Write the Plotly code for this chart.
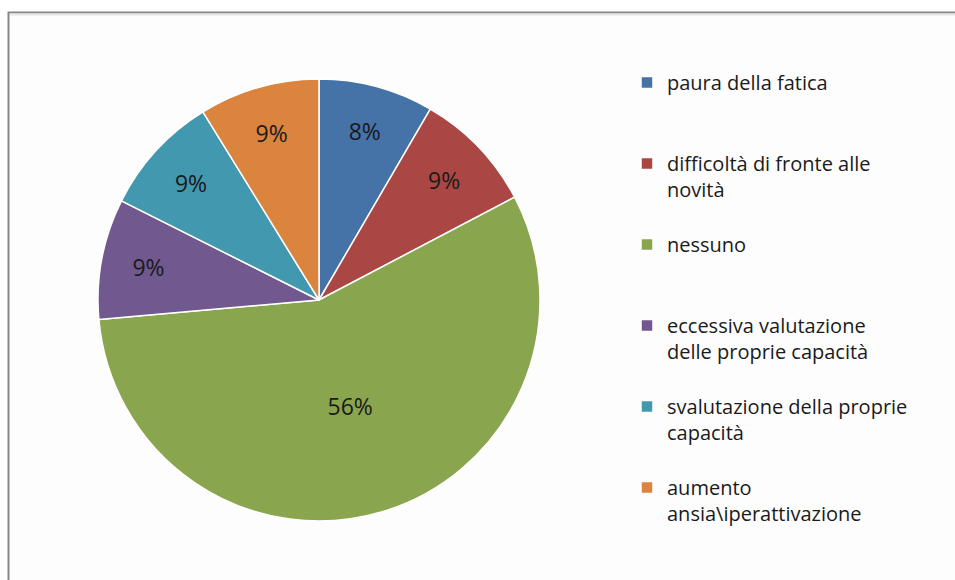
import plotly.graph_objects as go

# slice categories, read clockwise from 12 o'clock
labels = [
    "paura della fatica",
    "difficoltà di fronte alle<br>novità",
    "nessuno",
    "eccessiva valutazione<br>delle proprie capacità",
    "svalutazione della proprie<br>capacità",
    "aumento<br>ansia\\iperattivazione",
]
# share of answers (%)
values = [8.4, 8.9, 56.3, 8.8, 8.8, 8.8]
colors = ["#4572A7", "#AA4643", "#89A54E", "#71588F", "#4198AF", "#DB843D"]

W, H = 955, 580

# pad every legend entry to three lines so the entries are evenly spaced
legend_labels = [lab + "<br> " * (3 - lab.count("<br>") - 1) for lab in labels]

fig = go.Figure(go.Pie(
    labels=legend_labels,
    values=values,
    sort=False,
    direction="clockwise",
    rotation=0,
    marker=dict(colors=colors, line=dict(color="white", width=1.5)),
    textinfo="percent",
    texttemplate="%{percent:.0%}",
    textposition="inside",
    insidetextorientation="horizontal",
    textfont=dict(family="Open Sans", size=23, color="#1a1a1a"),
    hoverinfo="label+percent",
    domain=dict(x=[98 / W, 540 / W], y=[1 - 521 / H, 1 - 79 / H]),
))

# chart frame (only the top and left edges fall inside the picture)
fig.add_shape(type="rect", xref="paper", yref="paper",
              x0=8.5 / W, x1=1.02, y0=-0.02, y1=1 - 12.5 / H,
              line=dict(color="#878787", width=2), fillcolor="#fdfdfd", layer="below")
# faint inner line under the top edge
fig.add_shape(type="line", xref="paper", yref="paper",
              x0=10 / W, x1=1.02, y0=1 - 14.5 / H, y1=1 - 14.5 / H,
              line=dict(color="#e6e6e6", width=2), layer="below")

fig.update_layout(
    width=W, height=H,
    margin=dict(l=0, r=0, t=0, b=0),
    paper_bgcolor="white",
    plot_bgcolor="white",
    font=dict(family="Open Sans", color="#1a1a1a"),
    showlegend=True,
    legend=dict(
        x=627 / W, y=1 - 63 / H, xanchor="left", yanchor="top",
        valign="top",
        font=dict(family="Open Sans", size=20, color="#1a1a1a"),
        bgcolor="rgba(0,0,0,0)",
        traceorder="normal",
    ),
)

fig.write_html("out.html", config={"displayModeBar": False},
               post_script="document.body.style.margin='0';")
